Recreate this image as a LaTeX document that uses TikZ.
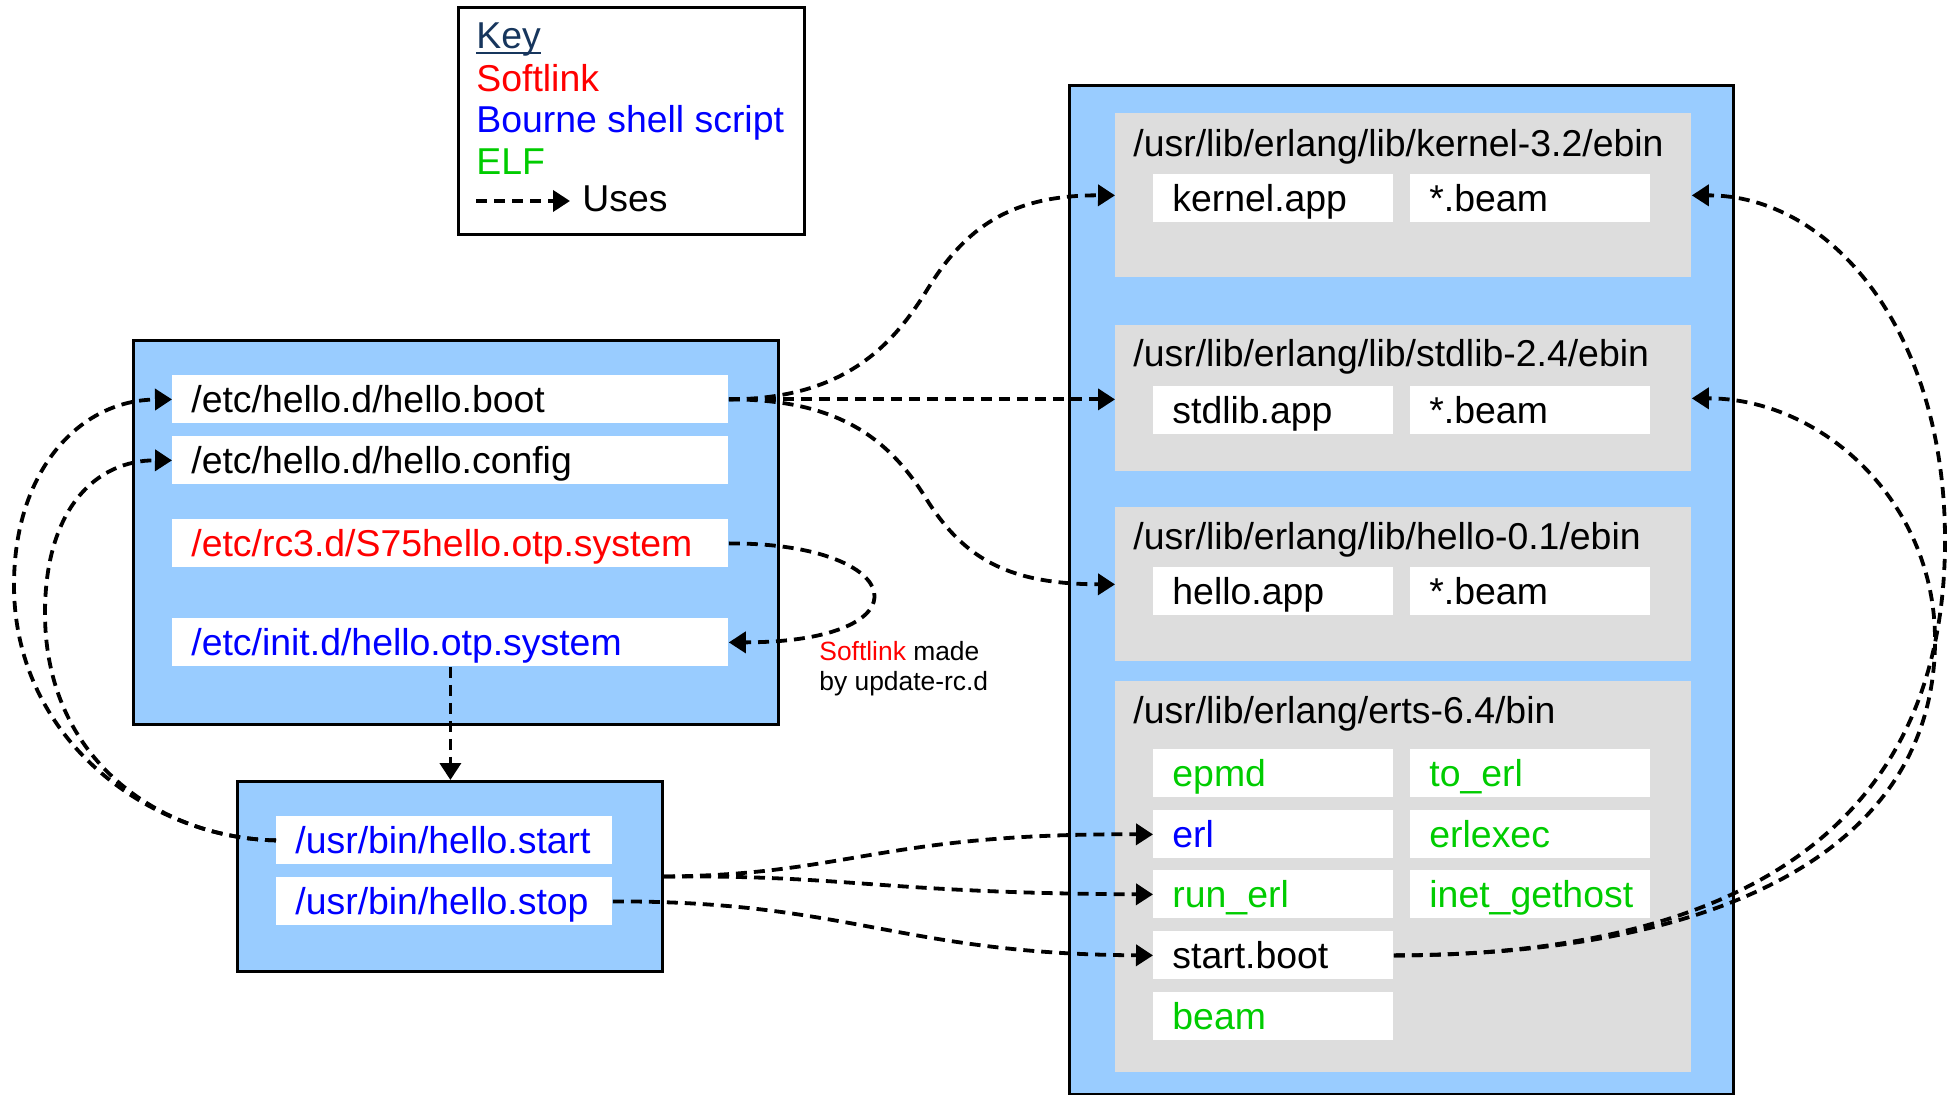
\documentclass[tikz,border=0pt]{standalone}
\usepackage{fontspec}
\setmainfont{Liberation Sans}
\usetikzlibrary{arrows.meta}

\definecolor{boxblue}{RGB}{153,204,255}
\definecolor{panelgray}{RGB}{221,221,221}
\definecolor{linkred}{RGB}{255,0,0}
\definecolor{shblue}{RGB}{0,0,255}
\definecolor{elfgreen}{RGB}{0,204,0}
\definecolor{keynavy}{RGB}{23,54,93}

\begin{document}
\begin{tikzpicture}[x=0.5pt, y=-0.5pt,
  every node/.style={font=\fontsize{18.7}{22}\selectfont},
  group/.style={draw=black, line width=1.5pt, fill=boxblue, anchor=north west, inner sep=0pt},
  panel/.style={fill=panelgray, anchor=north west, inner sep=0pt},
  file/.style={fill=white, anchor=north west, inner xsep=9.5pt, inner ysep=1.5pt,
               text height=17pt, text depth=4pt, align=left},
  wide/.style={file, text width=259pt},
  mid/.style={file, text width=149pt},
  cell/.style={file, text width=101pt},
  lbl/.style={anchor=base west, inner sep=0pt},
  note/.style={lbl, font=\fontsize{13.2}{15}\selectfont},
  uses/.style={line width=1.9pt, dash pattern=on 5.5pt off 3.5pt,
               -{Triangle[length=8.5pt,width=10.5pt]}},
]
\useasboundingbox (0,0) rectangle (1952,1095);

% ---------- key ----------
\node[draw=black, line width=1.5pt, fill=white, anchor=north west, inner sep=0pt,
      minimum width=173pt, minimum height=113.5pt] (key) at (457,6) {};
\node[lbl, text=keynavy] (keyhead) at (476,49) {Key};
\draw[keynavy, line width=1pt] ([yshift=-2pt]keyhead.base west) -- ([yshift=-2pt]keyhead.base east);
\node[lbl, text=linkred] (keylink) at (476,92) {Softlink};
\node[lbl, text=shblue] (keysh) at (476,133) {Bourne shell script};
\node[lbl, text=elfgreen] (keyelf) at (476,175) {ELF};
\coordinate (keyfrom) at (476,201);
\coordinate (keyto) at (570,201);
\node[lbl] (keyuses) at (582,212) {Uses};

% ---------- /etc group ----------
\node[group, minimum width=322.5pt, minimum height=192pt] (etc) at (132,339) {};
\node[wide] (boot) at (172,375) {/etc/hello.d/hello.boot};
\node[wide] (config) at (172,436) {/etc/hello.d/hello.config};
\node[wide, text=linkred] (s75) at (172,519) {/etc/rc3.d/S75hello.otp.system};
\node[wide, text=shblue] (initd) at (172,618) {/etc/init.d/hello.otp.system};

\node[note] (note1) at (819,661) {\textcolor{linkred}{Softlink} made};
\node[note] (note2) at (819,690) {by update-rc.d};

% ---------- /usr/bin group ----------
\node[group, minimum width=212.5pt, minimum height=95pt] (usrbin) at (236,780) {};
\node[mid, text=shblue] (hstart) at (276,816) {/usr/bin/hello.start};
\node[mid, text=shblue] (hstop) at (276,877) {/usr/bin/hello.stop};

% ---------- /usr/lib/erlang group ----------
\node[group, minimum width=332pt, minimum height=504.5pt] (erlang) at (1068,84) {};
\node[panel, minimum width=288pt, minimum height=82pt] (kernel) at (1115,113) {};
\node[panel, minimum width=288pt, minimum height=73pt] (stdlib) at (1115,325) {};
\node[panel, minimum width=288pt, minimum height=77pt] (hello) at (1115,507) {};
\node[panel, minimum width=288pt, minimum height=195.5pt] (erts) at (1115,681) {};

\node[lbl] (ktitle) at (1133,157) {/usr/lib/erlang/lib/kernel-3.2/ebin};
\node[lbl] (stitle) at (1133,367) {/usr/lib/erlang/lib/stdlib-2.4/ebin};
\node[lbl] (htitle) at (1133,550) {/usr/lib/erlang/lib/hello-0.1/ebin};
\node[lbl] (etitle) at (1133,723) {/usr/lib/erlang/erts-6.4/bin};

\node[cell] (kapp) at (1153,174) {kernel.app};
\node[cell] (kbeam) at (1410,174) {*.beam};
\node[cell] (sapp) at (1153,386) {stdlib.app};
\node[cell] (sbeam) at (1410,386) {*.beam};
\node[cell] (happ) at (1153,567) {hello.app};
\node[cell] (hbeam) at (1410,567) {*.beam};

\node[cell, text=elfgreen] (epmd) at (1153,749) {epmd};
\node[cell, text=elfgreen] (toerl) at (1410,749) {to\_erl};
\node[cell, text=shblue] (erl) at (1153,810) {erl};
\node[cell, text=elfgreen] (erlexec) at (1410,810) {erlexec};
\node[cell, text=elfgreen] (runerl) at (1153,870) {run\_erl};
\node[cell, text=elfgreen] (inet) at (1410,870) {inet\_gethost};
\node[cell] (startboot) at (1153,931) {start.boot};
\node[cell, text=elfgreen] (beam) at (1153,992) {beam};

% ---------- "uses" connectors ----------
\draw[uses] (keyfrom) -- (keyto);

\draw[uses] (boot.east) .. controls (840,399) and (890,350) .. (927,290)
            .. controls (965,228) and (1010,195) .. (kernel.west);
\draw[uses] (boot.east) -- (boot.east -| stdlib.west);
\draw[uses] (boot.east) .. controls (840,399) and (890,440) .. (927,500)
            .. controls (965,560) and (1010,584) .. (hello.west);

\draw[uses] (s75.east) .. controls (910,543) and (930,642) .. (initd.east);
\draw[uses] (initd.south) -- (initd.south |- usrbin.north);

\draw[uses] (hstart.west) .. controls (150,838) and (14,740) .. (14,585)
            .. controls (14,470) and (80,400) .. (boot.west);
\draw[uses] (hstart.west) .. controls (160,838) and (45,760) .. (45,613)
            .. controls (45,510) and (95,460) .. (config.west);

\draw[uses] (usrbin.east) .. controls (850,875) and (880,833) .. (erl.west);
\draw[uses] (usrbin.east) .. controls (850,875) and (880,893) .. (runerl.west);
\draw[uses] (hstop.east) .. controls (850,901) and (900,954) .. (startboot.west);

\draw[uses] (startboot.east) .. controls (1750,955) and (1945,820) .. (1945,540)
            .. controls (1945,330) and (1830,195) .. (kernel.east);
\draw[uses] (startboot.east) .. controls (1720,955) and (1935,850) .. (1935,640)
            .. controls (1935,500) and (1820,398) .. (stdlib.east);
\end{tikzpicture}
\end{document}
